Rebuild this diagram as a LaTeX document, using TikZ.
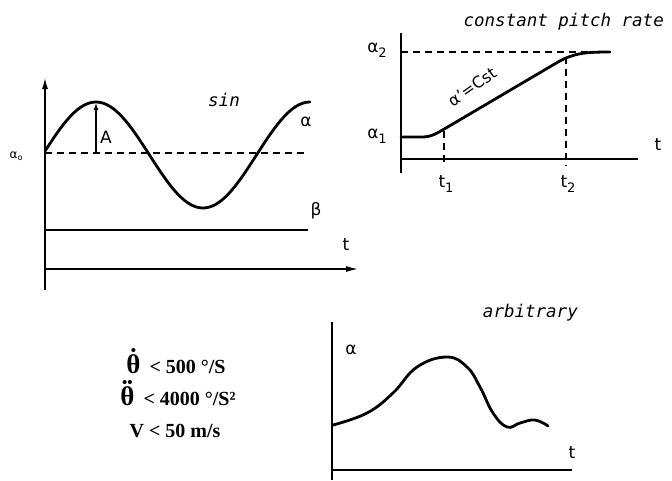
\documentclass[tikz,border=0pt]{standalone}
\usepackage{fontspec}
\setmainfont{Liberation Serif}
\setsansfont{DejaVu Sans}
\setmonofont{DejaVu Sans Mono}
\usetikzlibrary{arrows.meta}
\newcommand\lowidx[1]{\raisebox{-0.3em}{\fontsize{13}{13}\selectfont#1}}
\newcommand\overdots[1]{\leavevmode\vbox{\offinterlineskip\halign{\hfil##\hfil\cr
  {\fontsize{15}{15}\selectfont#1}\cr\noalign{\kern-1pt}{\fontsize{27}{27}\selectfont θ}\cr}}}

\begin{document}
\begin{tikzpicture}[x=1pt,y=-1pt,
  axis/.style={line width=1.3pt},
  curve/.style={line width=2.8pt,line cap=round,line join=round},
  guide/.style={line width=1.2pt,dash pattern=on 7pt off 5pt},
  lbl/.style={font=\sffamily\fontsize{17}{19}\selectfont,inner sep=0pt},
  ttl/.style={font=\ttfamily\itshape\fontsize{17.5}{19}\selectfont,inner sep=0pt},
  rule/.style={font=\bfseries\fontsize{20}{22}\selectfont,inner sep=0pt,anchor=base}]
  \useasboundingbox (0,0) rectangle (672,480);
  % sin motion
  \coordinate (S0) at (45,290);
  \coordinate (Stop) at (45,78);
  \coordinate (Sa) at (45,269);
  \coordinate (Send) at (358,269);
  \draw[axis,-{Latex[length=11pt,width=6pt]}] (S0) -- (Stop);
  \draw[axis,-{Latex[length=12pt,width=6pt]}] (Sa) -- (Send);
  \coordinate (mean0) at (45,153);
  \coordinate (mean1) at (306,153);
  \draw[guide] (mean0) -- (mean1);
  \coordinate (beta0) at (45,230);
  \coordinate (beta1) at (308,230);
  \draw[axis] (beta0) -- (beta1);
  \draw[curve] plot[domain=45:310,samples=90] (\x,{155-53*cos((\x-96)*1.6822)});
  \coordinate (Abase) at (96,153);
  \coordinate (Apeak) at (96,103);
  \draw[line width=1.1pt,-{Latex[length=7pt,width=5pt]}] (Abase) -- (Apeak);
  \node[lbl] (Alab) at (106,137) {A};
  \node[ttl] (sin) at (224,100) {sin};
  \node[lbl] (alpha) at (306,122) {α};
  \node[lbl,font=\sffamily\fontsize{12}{13}\selectfont] (alpha0) at (16,156) {α\raisebox{-0.2em}{\fontsize{8}{8}\selectfont o}};
  \node[lbl] (beta) at (316,211) {β};
  \node[lbl] (tS) at (346,245) {t};
  % constant pitch rate
  \coordinate (P0) at (401,173);
  \coordinate (Ptop) at (401,33);
  \coordinate (Pa) at (401,159);
  \coordinate (Pend) at (638,159);
  \draw[axis] (P0) -- (Ptop);
  \draw[axis] (Pa) -- (Pend);
  \coordinate (top0) at (401,52);
  \coordinate (top1) at (604,52);
  \draw[guide] (top0) -- (top1);
  \draw[curve] (401,137) -- (422,137) .. controls (432,137) and (437,133) .. (446,128)
    -- (558,62) .. controls (574,53) and (586,52) .. (610,52);
  \coordinate (t1a) at (444,131);
  \coordinate (t1b) at (444,167);
  \coordinate (t2a) at (566,57);
  \coordinate (t2b) at (566,166);
  \draw[guide] (t1a) -- (t1b);
  \draw[guide] (t2a) -- (t2b);
  \node[lbl] (a2) at (377,50) {α\lowidx{2}};
  \node[lbl] (a1) at (377,136) {α\lowidx{1}};
  \node[lbl] (t1) at (446,184) {t\lowidx{1}};
  \node[lbl] (t2) at (568,184) {t\lowidx{2}};
  \node[lbl] (tP) at (658,145) {t};
  \node[lbl,rotate=35,font=\sffamily\fontsize{16}{18}\selectfont] (slope) at (472,87) {α’=Cst};
  \node[ttl,anchor=east] (cpr) at (664,22) {constant pitch rate};
  % arbitrary motion
  \coordinate (R0) at (332,480);
  \coordinate (Rtop) at (332,322);
  \coordinate (Ra) at (332,470);
  \coordinate (Rend) at (572,470);
  \draw[axis] (R0) -- (Rtop);
  \draw[axis] (Ra) -- (Rend);
  \draw[curve] plot[smooth,tension=0.7] coordinates {(333,425) (367,413) (393,393)
    (417,367) (447,357) (467,367) (480,387) (493,413) (507,427) (520,423)
    (535,420) (548,426)};
  \node[lbl] (aR) at (351,350) {α};
  \node[lbl] (tR) at (572,453) {t};
  \node[ttl,anchor=east] (arb) at (578,313) {arbitrary};
  % limits
  \node[rule] (l1) at (176,373) {\overdots{•}\hspace{9pt}< 500 °/S};
  \node[rule] (l2) at (178,405) {\overdots{••}\hspace{9pt}< 4000 °/S²};
  \node[rule] (l3) at (175,437) {V < 50 m/s};
\end{tikzpicture}
\end{document}
